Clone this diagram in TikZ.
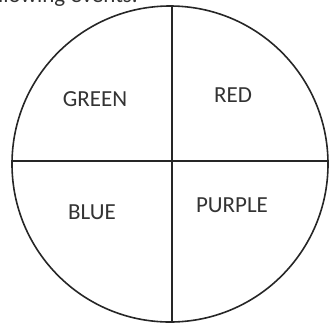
\documentclass[tikz,border=0pt]{standalone}
\usepackage{fontspec}
\setmainfont{Carlito}
\begin{document}
\begin{tikzpicture}[x=1pt,y=-1pt,
  lbl/.style={font=\fontsize{23}{25}\selectfont, text=black!80, inner sep=0pt},
  ln/.style={line width=1.6pt, draw=black!85}]
\useasboundingbox (0,0) rectangle (329,325);
\clip (0,0) rectangle (329,325);
\node[font=\fontsize{23}{25}\selectfont, text=black!80, anchor=base east, inner sep=0pt] (top) at (138,2.5) {following events.};
\node[ln, circle, minimum size=316pt, inner sep=0pt] (c) at (170,164) {};
\coordinate (vt) at (172,6);
\coordinate (vb) at (172,322);
\coordinate (hl) at (12,161);
\coordinate (hr) at (328,161);
\draw[ln] (vt) -- (vb);
\draw[ln] (hl) -- (hr);
\node[lbl] (green) at (95,99) {GREEN};
\node[lbl] (red) at (233,95) {RED};
\node[lbl] (blue) at (92,212) {BLUE};
\node[lbl] (purple) at (232,205) {PURPLE};
\end{tikzpicture}
\end{document}
